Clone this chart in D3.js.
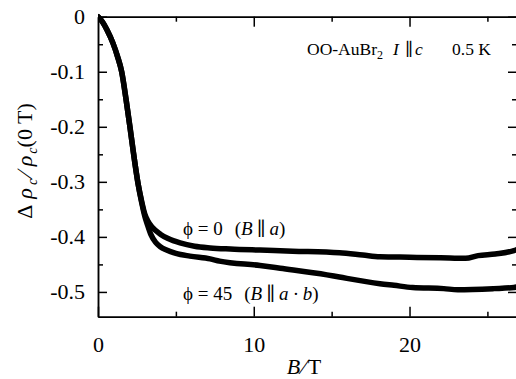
<!DOCTYPE html>
<html>
<head>
<meta charset="utf-8">
<script src="https://cdn.jsdelivr.net/npm/d3@7"></script>
<style>
  body { margin: 0; background: #fff; }
  svg { display: block; font-family: "Liberation Serif", "DejaVu Serif", serif; }
  svg text { font-family: "Liberation Serif", "DejaVu Serif", serif; }
</style>
</head>
<body>
<script>
// field values (T) and relative magnetoresistance
const fieldPhi0 = [0, 0.3, 0.58, 0.96, 1.25, 1.52, 1.8, 2.05, 2.25, 2.57, 2.8, 3.0, 3.2, 3.5, 4.0, 4.5, 5.27, 6.2, 7.2, 8.5, 10.4, 12.5, 15.5, 17, 18.1, 20, 22, 23.6, 24.4, 25.5, 26.7, 26.9];
const valuesPhi0 = [0, -0.01, -0.024, -0.048, -0.072, -0.1, -0.15, -0.2, -0.242, -0.303, -0.335, -0.358, -0.371, -0.383, -0.395, -0.403, -0.411, -0.417, -0.42, -0.422, -0.424, -0.426, -0.429, -0.433, -0.436, -0.437, -0.438, -0.439, -0.434, -0.431, -0.425, -0.423];

const fieldPhi45 = [0, 0.3, 0.58, 0.96, 1.25, 1.52, 1.8, 2.05, 2.25, 2.57, 2.8, 3.0, 3.2, 3.4, 3.7, 4.0, 4.4, 5.0, 5.9, 7.2, 7.8, 10.4, 11.7, 14.7, 15.5, 18.1, 19, 20.2, 22.2, 23.1, 25.4, 26.7, 26.9];
const valuesPhi45 = [0, -0.01, -0.024, -0.048, -0.072, -0.1, -0.15, -0.2, -0.242, -0.303, -0.337, -0.362, -0.38, -0.396, -0.41, -0.418, -0.424, -0.43, -0.435, -0.44, -0.444, -0.452, -0.457, -0.469, -0.473, -0.485, -0.488, -0.492, -0.494, -0.496, -0.494, -0.492, -0.491];

const xMajorTicks = [0, 10, 20];
const xMinorTicks = [5, 15, 25];
const yMajorTicks = [0, -0.1, -0.2, -0.3, -0.4, -0.5];
const yMinorTicks = [-0.05, -0.15, -0.25, -0.35, -0.45];

const width = 516, height = 379;
const marginLeft = 98, marginTop = 16.7, plotRight = 517, plotBottom = 316.7;

const x = d3.scaleLinear().domain([0, 26.9]).range([marginLeft, plotRight]);
const y = d3.scaleLinear().domain([0, -0.545]).range([marginTop, plotBottom]);

const svg = d3.select("body").append("svg")
  .attr("width", width)
  .attr("height", height)
  .attr("viewBox", [0, 0, width, height]);

//frame axes: majors with labels on bottom/left, everything else ticks only (all pointing inwards)
function addAxis(axis, transform) {
  const g = svg.append("g").attr("transform", transform).call(axis);
  g.attr("font-family", null).attr("font-size", null);
  g.select(".domain").attr("stroke", "#000").attr("stroke-width", 1.5);
  g.selectAll(".tick line").attr("stroke", "#000").attr("stroke-width", 1.5);
  return g;
}

const bottom = addAxis(d3.axisBottom(x).tickValues(xMajorTicks).tickSizeInner(-10).tickSizeOuter(0).tickPadding(20).tickFormat(d3.format("d")),
  `translate(0,${plotBottom})`);
addAxis(d3.axisBottom(x).tickValues(xMinorTicks).tickSizeInner(-5).tickSizeOuter(0).tickFormat(""), `translate(0,${plotBottom})`);
addAxis(d3.axisTop(x).tickValues(xMajorTicks.slice(1)).tickSizeInner(-10).tickSizeOuter(0).tickFormat(""), `translate(0,${marginTop})`);
addAxis(d3.axisTop(x).tickValues(xMinorTicks).tickSizeInner(-5).tickSizeOuter(0).tickFormat(""), `translate(0,${marginTop})`);

const left = addAxis(d3.axisLeft(y).tickValues(yMajorTicks).tickSizeInner(-9).tickSizeOuter(0).tickPadding(13).tickFormat(d => d === 0 ? "0" : d3.format(".1f")(d).replace("−", "-")),
  `translate(${marginLeft},0)`);
addAxis(d3.axisLeft(y).tickValues(yMinorTicks).tickSizeInner(-5).tickSizeOuter(0).tickFormat(""), `translate(${marginLeft},0)`);
addAxis(d3.axisRight(y).tickValues(yMajorTicks).tickSizeInner(-9).tickSizeOuter(0).tickFormat(""), `translate(${plotRight},0)`);
addAxis(d3.axisRight(y).tickValues(yMinorTicks).tickSizeInner(-5).tickSizeOuter(0).tickFormat(""), `translate(${plotRight},0)`);

[bottom, left].forEach(g => g.selectAll(".tick text")
  .attr("fill", "#000")
  .attr("font-size", "22px"));

// the curves
svg.append("clipPath").attr("id", "plotclip")
  .append("rect").attr("x", marginLeft).attr("y", marginTop - 3)
  .attr("width", plotRight - marginLeft).attr("height", plotBottom - marginTop + 3);

const line = d3.line()
  .x(d => x(d[0]))
  .y(d => y(d[1]))
  .curve(d3.curveMonotoneX);

const series = [
  d3.zip(fieldPhi0, valuesPhi0),
  d3.zip(fieldPhi45, valuesPhi45)
];

svg.append("g")
  .attr("clip-path", "url(#plotclip)")
  .selectAll("path")
  .data(series)
  .join("path")
  .attr("d", line)
  .attr("fill", "none")
  .attr("stroke", "#000")
  .attr("stroke-width", 5.5)
  .attr("stroke-linejoin", "round")
  .attr("stroke-linecap", "round");

// x axis title  B / T
const xTitle = svg.append("text")
  .attr("x", 304)
  .attr("y", 374)
  .attr("text-anchor", "middle")
  .attr("font-size", "22px");
xTitle.append("tspan").attr("font-style", "italic").text("B");
xTitle.append("tspan").attr("dx", 2).text("∕");
xTitle.append("tspan").attr("dx", 2).text("T");

// y axis title  Δρc / ρc(0T)
const yTitle = svg.append("text")
  .attr("transform", "translate(32,161) rotate(-90)")
  .attr("text-anchor", "middle")
  .attr("font-size", "22px");
yTitle.append("tspan").text("Δ");
yTitle.append("tspan").attr("dx", 6).attr("font-style", "italic").text("ρ");
yTitle.append("tspan").attr("font-style", "italic").attr("font-size", "14px").attr("dx", 3).attr("dy", 5).text("c");
yTitle.append("tspan").attr("dy", -5).attr("dx", 3).text("∕");
yTitle.append("tspan").attr("dx", 6).attr("font-style", "italic").text("ρ");
yTitle.append("tspan").attr("font-style", "italic").attr("font-size", "14px").attr("dx", 2).attr("dy", 5).text("c");
yTitle.append("tspan").attr("dy", -5).text("(0 T)");

// sample / condition annotation
const note = svg.append("text")
  .attr("y", 55)
  .attr("font-size", "17.5px");
note.append("tspan").attr("x", 307).text("OO-AuBr");
note.append("tspan").attr("font-size", "12px").attr("dy", 4).text("2");
note.append("tspan").attr("x", 393).attr("dy", -4).attr("font-style", "italic").text("I");
note.append("tspan").attr("x", 405).text("∥");
note.append("tspan").attr("x", 415).attr("font-style", "italic").text("c");
note.append("tspan").attr("x", 452).text("0.5 K");

// curve labels
function curveLabel(yPos, angle, dir) {
  const t = svg.append("text").attr("x", 183).attr("y", yPos).attr("font-size", "19px");
  t.append("tspan").text(`ϕ = ${angle}`);
  t.append("tspan").attr("dx", 12).text("(");
  t.append("tspan").attr("font-style", "italic").text("B");
  t.append("tspan").attr("dx", 4).text("∥");
  t.append("tspan").attr("dx", 4).attr("font-style", "italic").text(dir);
  t.append("tspan").text(")");
}
curveLabel(235, "0", "a");
curveLabel(300, "45", "a · b");
</script>
</body>
</html>
